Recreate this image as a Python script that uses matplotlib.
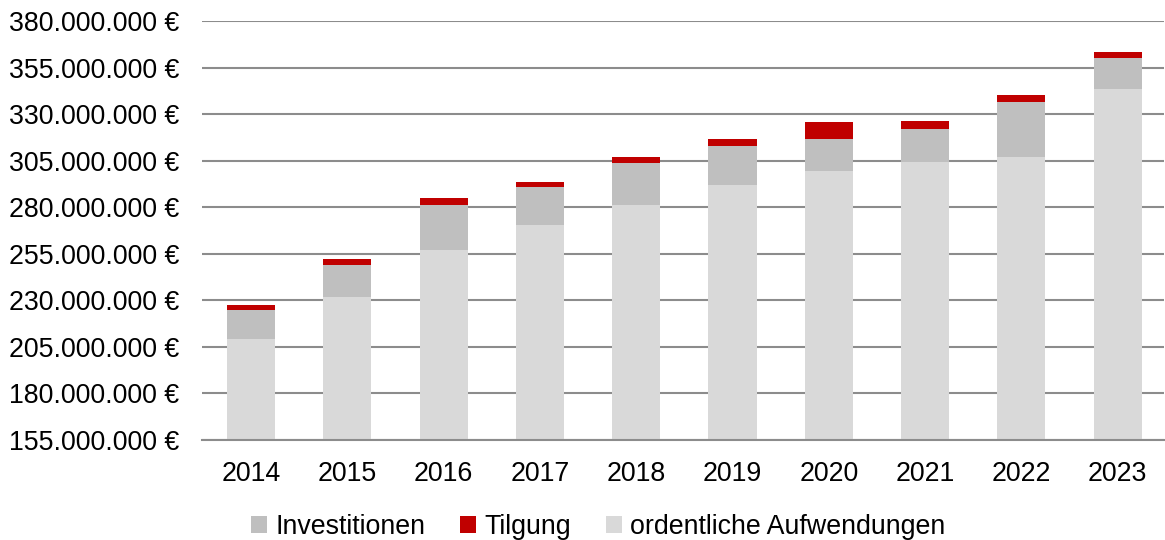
import matplotlib.pyplot as plt
from matplotlib.ticker import FuncFormatter

plt.rcParams['font.family'] = ['Liberation Sans', 'DejaVu Sans']

# Werte in Mio. Euro
jahre = ['2014', '2015', '2016', '2017', '2018', '2019', '2020', '2021', '2022', '2023']
ordentliche = [209.4, 232.0, 256.9, 270.7, 281.0, 292.1, 299.6, 304.5, 307.0, 343.5]
investitionen = [15.6, 17.2, 24.2, 19.9, 22.9, 21.0, 17.2, 17.7, 29.7, 16.7]
tilgung = [2.7, 3.2, 3.6, 2.8, 3.3, 3.7, 9.2, 4.1, 3.6, 3.4]
y_ticks = [155, 180, 205, 230, 255, 280, 305, 330, 355, 380]

fig = plt.figure(figsize=(11.65, 5.4), dpi=100)
ax = fig.add_axes([0.1734, 0.1852, 0.8256, 0.7759])

x = range(len(jahre))
unten2 = [o + i for o, i in zip(ordentliche, investitionen)]
b_ord = ax.bar(x, ordentliche, width=0.5, bottom=0, color='#d9d9d9', zorder=3)
b_inv = ax.bar(x, investitionen, width=0.5, bottom=ordentliche, color='#bfbfbf', zorder=3)
b_til = ax.bar(x, tilgung, width=0.5, bottom=unten2, color='#c00000', zorder=3)

ax.set_ylim(155, 380)
ax.set_xlim(-0.51, 9.48)
ax.set_yticks(y_ticks)
ax.yaxis.set_major_formatter(FuncFormatter(
    lambda v, p: '{:,.0f} €'.format(v * 1e6).replace(',', '.')))
ax.set_xticks(list(x))
ax.set_xticklabels(jahre)

ax.grid(axis='y', color='#8c8c8c', linewidth=1.5, zorder=0)
for s in ['top', 'right', 'left']:
    ax.spines[s].set_visible(False)
ax.spines['bottom'].set_color('#8c8c8c')
ax.spines['bottom'].set_linewidth(1.5)
ax.spines['bottom'].set_zorder(4)
ax.tick_params(axis='both', length=0, labelsize=19.3, colors='black')
ax.tick_params(axis='y', pad=16.5)
ax.tick_params(axis='x', pad=15)

fig.legend([b_inv, b_til, b_ord], ['Investitionen', 'Tilgung', 'ordentliche Aufwendungen'],
           loc='center', bbox_to_anchor=(598 / 1165, 1 - 527 / 540), ncol=3,
           frameon=False, fontsize=19.3, handlelength=0.6, handleheight=0.6,
           handletextpad=0.3, columnspacing=1.3)

fig.savefig('out.png', dpi=100)
